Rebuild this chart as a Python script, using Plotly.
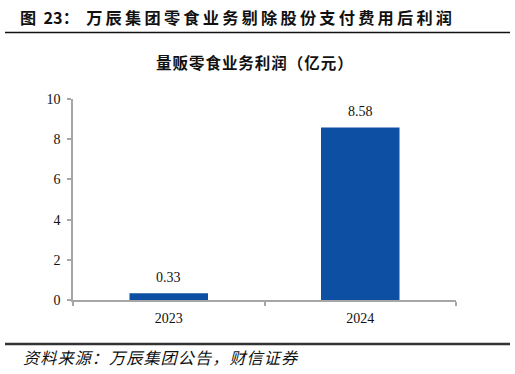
import plotly.graph_objects as go

categories = ["2023", "2024"]
profit = [0.33, 8.58]
value_labels = ["0.33", "8.58"]
y_ticks = [0, 2, 4, 6, 8, 10]

W, H = 515, 374
L, R, T, B = 73, 456, 99, 300

def px(x):
    return (x - L) / (R - L)

def py(y):
    return (B - y) / (B - T)

BAR = "#0C4FA3"
AX = "#A6A6A6"
SERIF = "Liberation Serif, Times New Roman, serif"
CJK = "Noto Sans CJK SC, sans-serif"

fig = go.Figure()
fig.add_trace(go.Bar(x=categories, y=profit, width=0.41, marker=dict(color=BAR, line=dict(width=0)),
                     hoverinfo="skip"))

for i, (v, t) in enumerate(zip(profit, value_labels)):
    fig.add_annotation(x=i, y=v, xref="x", yref="y", text=t, showarrow=False,
                       yanchor="middle", yshift=16, font=dict(family=SERIF, size=14, color="#111"))

thin = "\u2009"
hair = "\u200a"
title = "图\u00a0\u00a023：\u00a0\u00a0" + thin.join("万辰集团零食业务剔除股份支付费用后利润")
fig.add_annotation(x=px(18), y=py(17), xref="paper", yref="paper", text="<b>" + title + "</b>",
                   showarrow=False, xanchor="left", yanchor="middle",
                   font=dict(family=CJK, size=16.2, color="#111"))

fig.add_annotation(x=px(254), y=py(62), xref="paper", yref="paper",
                   text="<b>" + hair.join("量贩零食业务利润（亿元）") + "</b>",
                   showarrow=False, xanchor="center", yanchor="middle",
                   font=dict(family=CJK, size=15.5, color="#111"))

src = hair.join("资料来源：万辰集团公告，财信证券")
fig.add_annotation(x=px(21), y=py(357), xref="paper", yref="paper", text="<i>" + src + "</i>",
                   showarrow=False, xanchor="left", yanchor="middle",
                   font=dict(family=CJK, size=16.2, color="#111"))

fig.add_shape(type="line", xref="paper", yref="paper", x0=px(5), x1=px(510), y0=py(32.5), y1=py(32.5),
              line=dict(color="#111", width=1.5))
fig.add_shape(type="line", xref="paper", yref="paper", x0=px(5), x1=px(510), y0=py(344), y1=py(344),
              line=dict(color="#333", width=2.5))

fig.update_layout(
    width=W, height=H,
    margin=dict(l=L, r=W - R, t=T, b=H - B, pad=0),
    plot_bgcolor="white", paper_bgcolor="white",
    showlegend=False,
    xaxis=dict(type="category", range=[-0.5, 1.5], showline=True, linecolor=AX, linewidth=1.5,
               ticks="outside", tickson="boundaries", ticklen=4, tickcolor=AX, tickwidth=1.5,
               ticklabelstandoff=4,
               tickfont=dict(family=SERIF, size=14, color="#111"), showgrid=False, zeroline=False),
    yaxis=dict(range=[0, 10], tickvals=y_ticks, showline=True, linecolor=AX, linewidth=1.5,
               ticks="outside", ticklen=4, tickcolor=AX, tickwidth=1.5, ticklabelstandoff=4,
               tickfont=dict(family=SERIF, size=14, color="#111"), showgrid=False, zeroline=False),
)

fig.write_html("out.html")
